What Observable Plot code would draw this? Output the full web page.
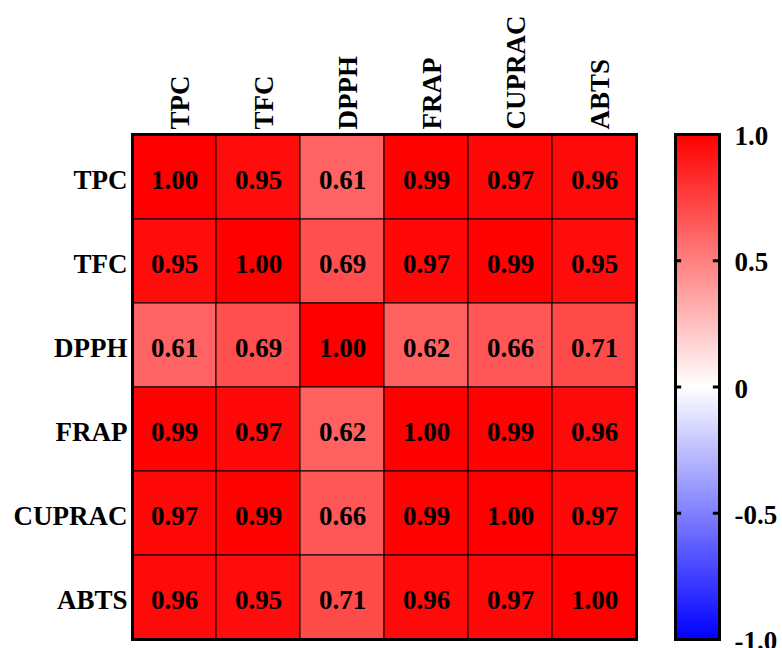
<!DOCTYPE html>
<html>
<head>
<meta charset="utf-8">
<script src="https://cdn.jsdelivr.net/npm/d3@7"></script>
<script src="https://cdn.jsdelivr.net/npm/@observablehq/plot@0.6"></script>
<style>
  html, body { margin: 0; padding: 0; background: #fff; }
  #wrap { position: relative; width: 782px; height: 648px; overflow: hidden; }
  #heat { position: absolute; left: 0; top: 0; }
  #bar { position: absolute; left: 660px; top: 0; }
</style>
</head>
<body>
<div id="wrap"><div id="heat"></div><div id="bar"></div></div>
<script>
const variables = ["TPC", "TFC", "DPPH", "FRAP", "CUPRAC", "ABTS"];
const rowTPC    = [1.00, 0.95, 0.61, 0.99, 0.97, 0.96];
const rowTFC    = [0.95, 1.00, 0.69, 0.97, 0.99, 0.95];
const rowDPPH   = [0.61, 0.69, 1.00, 0.62, 0.66, 0.71];
const rowFRAP   = [0.99, 0.97, 0.62, 1.00, 0.99, 0.96];
const rowCUPRAC = [0.97, 0.99, 0.66, 0.99, 1.00, 0.97];
const rowABTS   = [0.96, 0.95, 0.71, 0.96, 0.97, 1.00];
const colorbarTicks = [1, 0.5, 0, -0.5, -1];
const colorbarTickLabels = ["1.0", "0.5", "0", "-0.5", "-1.0"];
const innerTicks = [0.5, 0, -0.5];

const rows = [rowTPC, rowTFC, rowDPPH, rowFRAP, rowCUPRAC, rowABTS];
const cells = [];
rows.forEach((r, i) => r.forEach((v, j) => cells.push({row: variables[i], col: variables[j], value: v})));

const FONT = "'Liberation Serif', 'Times New Roman', serif";
const FS = 27;
const colorScale = {type: "linear", domain: [-1, 0, 1], range: ["#0000ff", "#ffffff", "#ff0000"], interpolate: "rgb"};

const heat = Plot.plot({
  width: 660,
  height: 648,
  marginLeft: 132,
  marginTop: 134,
  marginRight: 24,
  marginBottom: 9,
  style: {fontFamily: FONT, fontWeight: "bold", background: "white"},
  x: {domain: variables, padding: 0, axis: null},
  y: {domain: variables, padding: 0, axis: null},
  color: colorScale,
  marks: [
    Plot.cell(cells, {x: "col", y: "row", fill: "value", stroke: "black", strokeWidth: 1}),
    Plot.text(cells, {x: "col", y: "row", dy: 3, text: d => d.value.toFixed(2), fontSize: FS, fontWeight: "bold", fill: "black", fontFamily: FONT}),
    Plot.frame({stroke: "black", strokeWidth: 3}),
    Plot.axisX({anchor: "top", tickSize: 0, tickPadding: 5, tickRotate: -90, dx: 6, fontSize: FS, fontWeight: "bold", fontFamily: FONT, label: null}),
    Plot.axisY({anchor: "left", tickSize: 0, tickPadding: 5, dy: 3, fontSize: FS, fontWeight: "bold", fontFamily: FONT, label: null})
  ]
});
document.getElementById("heat").appendChild(heat);

const bar = Plot.plot({
  width: 122,
  height: 648,
  marginLeft: 15,
  marginRight: 63,
  marginTop: 134,
  marginBottom: 9,
  style: {fontFamily: FONT, fontWeight: "bold", background: "white", overflow: "visible"},
  x: {domain: [0, 1], axis: null},
  y: {domain: [-1, 1], axis: null},
  color: colorScale,
  marks: [
    Plot.raster({fill: (x, y) => y, x1: 0, x2: 1, y1: -1, y2: 1, width: 4, height: 500, interpolate: "none", imageRendering: "auto"}),
    Plot.ruleY(innerTicks, {x1: 0, x2: 0.14, stroke: "black", strokeWidth: 3}),
    Plot.ruleY(innerTicks, {x1: 0.86, x2: 1, stroke: "black", strokeWidth: 3}),
    Plot.frame({stroke: "black", strokeWidth: 3}),
    Plot.axisY(colorbarTicks, {anchor: "right", tickSize: 0, tickPadding: 15, dy: 2, fontSize: FS, fontWeight: "bold", fontFamily: FONT, label: null,
      tickFormat: d => colorbarTickLabels[colorbarTicks.indexOf(d)]})
  ]
});
document.getElementById("bar").appendChild(bar);
</script>
</body>
</html>
